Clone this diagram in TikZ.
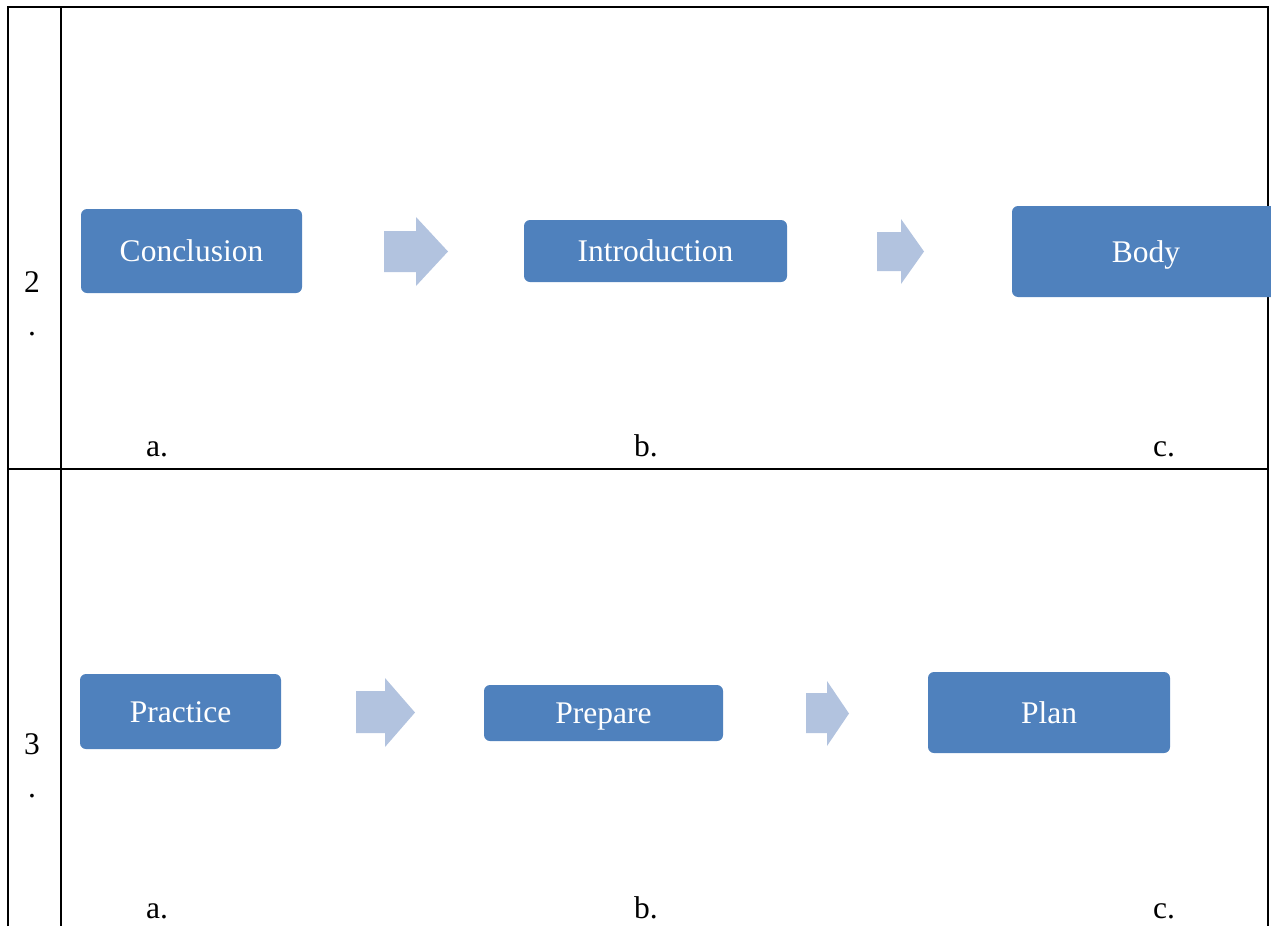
\documentclass[tikz,border=0pt]{standalone}
\usepackage{fontspec}
\setmainfont{Liberation Serif}
\definecolor{boxblue}{HTML}{4F81BD}
\definecolor{arrowblue}{HTML}{B2C3DF}
\tikzset{
  stagebox/.style={fill=boxblue, draw=none, rounded corners=6pt, text=white,
    font=\fontsize{31.5}{36}\selectfont, text height=21pt, text depth=0pt,
    inner sep=0pt},
  plain/.style={font=\fontsize{31.5}{36}\selectfont, inner sep=0pt, anchor=base},
  rule/.style={draw=black, line width=1.3pt},
  blockarrow/.style={fill=arrowblue, draw=none},
}
\begin{document}
\begin{tikzpicture}[x=1pt, y=-1pt]
\useasboundingbox (0,0) rectangle (1271,926);

% table rules
\draw[rule] (8,926) -- (8,7) -- (1268,7) -- (1268,926);
\draw[rule] (61,7) -- (61,926);
\draw[rule] (8,469) -- (1268,469);

% row numbers
\node[plain] (n2) at (32,292) {2};
\node[plain] (d2) at (32,335) {.};
\node[plain] (n3) at (32,754) {3};
\node[plain] (d3) at (32,797) {.};

% row 2 stages
\node[stagebox, minimum width=221pt, minimum height=84pt] (concl) at (191.5,251) {Conclusion};
\node[stagebox, minimum width=263pt, minimum height=62pt] (intro) at (655.5,251) {Introduction};
\begin{scope}
\clip (0,0) rectangle (1271,926);
\node[stagebox, minimum width=268pt, minimum height=91pt] (body) at (1146,251.5) {Body};
\end{scope}

\fill[blockarrow] (384,231) -- (416,231) -- (416,217) -- (448,251.5) -- (416,286) -- (416,272) -- (384,272) -- cycle;
\fill[blockarrow] (877,232) -- (901,232) -- (901,219) -- (924,251.5) -- (901,284) -- (901,271) -- (877,271) -- cycle;

% row 2 labels
\node[plain] (a2) at (157,456) {a.};
\node[plain] (b2) at (646,456) {b.};
\node[plain] (c2) at (1164,456) {c.};

% row 3 stages
\node[stagebox, minimum width=201pt, minimum height=75pt] (practice) at (180.5,711.5) {Practice};
\node[stagebox, minimum width=239pt, minimum height=56pt] (prepare) at (603.5,713) {Prepare};
\node[stagebox, minimum width=242pt, minimum height=81pt] (plan) at (1049,712.5) {Plan};

\fill[blockarrow] (356,691) -- (385,691) -- (385,678) -- (415,712.5) -- (385,747) -- (385,733) -- (356,733) -- cycle;
\fill[blockarrow] (806,693) -- (827,693) -- (827,681) -- (849,713.5) -- (827,746) -- (827,733) -- (806,733) -- cycle;

% row 3 labels
\node[plain] (a3) at (157,918) {a.};
\node[plain] (b3) at (646,918) {b.};
\node[plain] (c3) at (1164,918) {c.};
\end{tikzpicture}
\end{document}
